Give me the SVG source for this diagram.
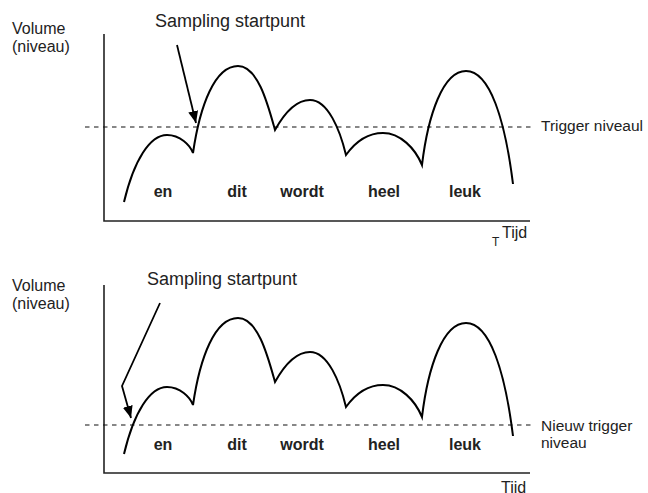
<svg xmlns="http://www.w3.org/2000/svg" width="648" height="493" viewBox="0 0 648 493">
<style>
text{font-family:"Liberation Sans",Arial,sans-serif;fill:#222}
.lbl{font-size:16px}
.w{font-size:16px;font-weight:bold;text-anchor:middle}
.axis{stroke:#222;stroke-width:1.6;fill:none}
.dash{stroke:#111;stroke-width:1.1;stroke-dasharray:4.5 4.5;fill:none}
.curve{stroke:#000;stroke-width:2;fill:none;stroke-linejoin:miter}
.arrow{stroke:#000;stroke-width:1.8;fill:none}
</style>
<defs>
<marker id="ah" markerUnits="userSpaceOnUse" markerWidth="14" markerHeight="12" refX="12" refY="5" orient="auto">
<path d="M0,0 L12,5 L0,10 Z" fill="#000"/>
</marker>
<path id="wave" d="M124,202 C134,160 150,135 167,135 C180,135 190,145 193,153 C200,105 215,66 238,66 C258,66 268,105 275,130 C285,112 297,100 310,100 C328,100 340,130 346,155 C356,141 368,133 383,133 C400,133 415,148 422,165 C428,115 443,71 466,71 C490,71 505,120 513,184"/>
</defs>
<g id="panel1">
<g id="axes1">
<polyline class="axis" points="104,34 104,221 530,221"/>
<line class="dash" x1="85" y1="127" x2="532" y2="127"/>
</g>
<g id="signal1"><use href="#wave" class="curve"/></g>
<g id="labels1">
<text class="lbl" x="12" y="34">Volume</text>
<text class="lbl" x="12" y="52">(niveau)</text>
<text x="155" y="27" style="font-size:18px">Sampling startpunt</text>
<text x="541" y="131" style="font-size:15.5px">Trigger niveaul</text>
<text x="492" y="246" style="font-size:12px">T</text>
<text x="502" y="238" style="font-size:16px">Tijd</text>
<text class="w" x="163" y="197">en</text>
<text class="w" x="237" y="197">dit</text>
<text class="w" x="302" y="197">wordt</text>
<text class="w" x="384" y="197">heel</text>
<text class="w" x="465" y="197">leuk</text>
</g>
</g>
<g id="panel2">
<g id="axes2">
<polyline class="axis" points="104,285 104,473 530,473"/>
<line class="dash" x1="85" y1="425" x2="532" y2="425"/>
</g>
<g id="signal2"><use href="#wave" class="curve" transform="translate(0,252)"/></g>
<g id="labels2">
<text class="lbl" x="12" y="291">Volume</text>
<text class="lbl" x="12" y="309">(niveau)</text>
<text x="147" y="285" style="font-size:18px">Sampling startpunt</text>
<text x="541" y="431" style="font-size:15.5px">Nieuw trigger</text>
<text x="541" y="448" style="font-size:15.5px">niveau</text>
<text x="501" y="493" style="font-size:16px">Tijd</text>
<text class="w" x="163" y="450">en</text>
<text class="w" x="237" y="450">dit</text>
<text class="w" x="302" y="450">wordt</text>
<text class="w" x="384" y="450">heel</text>
<text class="w" x="465" y="450">leuk</text>
</g>
</g>
<g id="connectors">
<line class="arrow" x1="177" y1="45" x2="196" y2="123" marker-end="url(#ah)"/>
<polyline class="arrow" points="160,303 122,386 131,418" marker-end="url(#ah)"/>
</g>
</svg>
